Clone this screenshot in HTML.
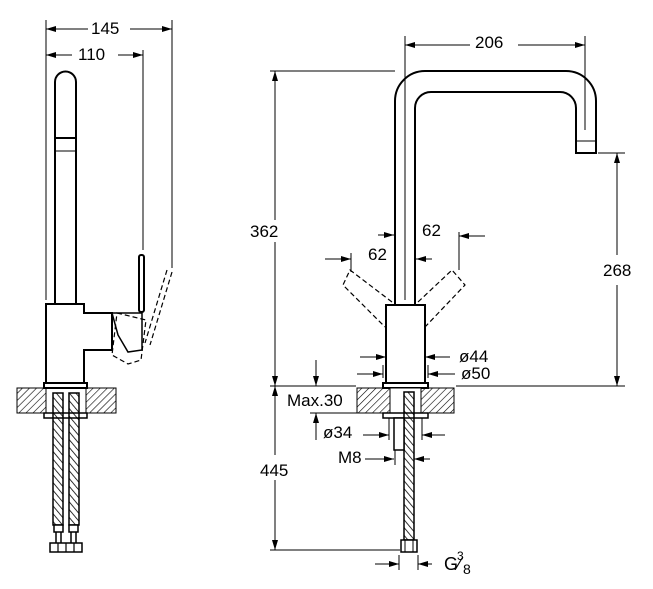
<!DOCTYPE html>
<html><head><meta charset="utf-8"><style>html,body{margin:0;padding:0;background:#fff}svg{display:block}text{font-family:"Liberation Sans",sans-serif;font-size:16px;fill:#000}</style></head>
<body>
<svg width="653" height="589" viewBox="0 0 653 589" xmlns="http://www.w3.org/2000/svg">
<defs>
<pattern id="h" width="5" height="5" patternUnits="userSpaceOnUse" patternTransform="rotate(45)"><line x1="0" y1="0" x2="0" y2="5" stroke="#000" stroke-width="1.2"/></pattern>
<pattern id="hz" width="5" height="5" patternUnits="userSpaceOnUse" patternTransform="rotate(-40)"><line x1="0" y1="0" x2="0" y2="5" stroke="#000" stroke-width="1.6"/></pattern>
<marker id="a" viewBox="0 0 10 6" refX="10" refY="3" markerWidth="10" markerHeight="6" orient="auto-start-reverse" markerUnits="userSpaceOnUse"><path d="M0 0 L10 3 L0 6z" fill="#000"/></marker>
</defs>
<g fill="none" stroke="#000" stroke-width="1">
<line x1="46" y1="20" x2="46" y2="300"/>
<line x1="172" y1="20" x2="172" y2="268"/>
<line x1="143" y1="50" x2="143" y2="250"/>
<line x1="46" y1="29" x2="88" y2="29" marker-start="url(#a)"/><line x1="130" y1="29" x2="172" y2="29" marker-end="url(#a)"/>
<line x1="46" y1="55" x2="72" y2="55" marker-start="url(#a)"/><line x1="118" y1="55" x2="143" y2="55" marker-end="url(#a)"/>
</g>
<text x="91" y="34" style="font-size:17px">145</text><text x="78" y="60" style="font-size:17px">110</text>
<g fill="none" stroke="#000" stroke-width="2">
<path d="M55 304 V82 A10.5 10.5 0 0 1 76 82 V304"/>
<line x1="55" y1="138" x2="76" y2="138"/><line x1="55" y1="151" x2="76" y2="151" stroke-width="1"/>
<path d="M46 383 V304 H84 V313 H112 V350 H84 V383"/>
<rect x="139" y="255" width="5" height="57" rx="2"/>
<path d="M112 313 L142 313 L142 350 L128 352 L118 335 Z" stroke-width="1.5"/>
<rect x="44" y="383" width="43" height="5"/>
</g>
<g fill="none" stroke="#000" stroke-width="1.2" stroke-dasharray="5,3">
<line x1="172" y1="272" x2="150" y2="345"/><line x1="167" y1="270" x2="145" y2="343"/>
<path d="M117 313 L146 320 L141 360 L128 364 L112 355 Z"/>
</g>
<rect x="17" y="388" width="29" height="25" fill="url(#h)" stroke="#000"/>
<rect x="86" y="388" width="30" height="25" fill="url(#h)" stroke="#000"/>
<rect x="44" y="413" width="43" height="5" fill="#fff" stroke="#000" stroke-width="1.5"/>
<rect x="53" y="393" width="10" height="132" fill="url(#hz)" stroke="#000" stroke-width="1.5"/>
<rect x="69" y="393" width="10" height="132" fill="url(#hz)" stroke="#000" stroke-width="1.5"/>
<g fill="#fff" stroke="#000" stroke-width="1.5">
<rect x="54" y="525" width="9" height="7"/><rect x="69" y="525" width="9" height="7"/>
<line x1="56" y1="532" x2="56" y2="543"/><line x1="61" y1="532" x2="61" y2="543"/>
<line x1="71" y1="532" x2="71" y2="543"/><line x1="76" y1="532" x2="76" y2="543"/>
<rect x="50" y="543" width="32" height="9"/>
</g>
<g stroke="#000" stroke-width="1.2"><line x1="58" y1="543" x2="58" y2="552"/><line x1="66" y1="543" x2="66" y2="552"/><line x1="74" y1="543" x2="74" y2="552"/></g>

<g fill="none" stroke="#000" stroke-width="1">
<line x1="270" y1="71" x2="395" y2="71"/>
<line x1="275" y1="71" x2="275" y2="220" marker-start="url(#a)"/><line x1="275" y1="242" x2="275" y2="386" marker-end="url(#a)"/>
<line x1="270" y1="386" x2="356" y2="386"/><line x1="456" y1="386" x2="625" y2="386"/>
<line x1="405" y1="36" x2="405" y2="300"/><line x1="585" y1="36" x2="585" y2="130"/>
<line x1="405" y1="45" x2="470" y2="45" marker-start="url(#a)"/><line x1="518" y1="45" x2="585" y2="45" marker-end="url(#a)"/>
<line x1="598" y1="153" x2="625" y2="153"/>
<line x1="617" y1="153" x2="617" y2="255" marker-start="url(#a)"/><line x1="617" y1="285" x2="617" y2="386" marker-end="url(#a)"/>
<line x1="275" y1="386" x2="275" y2="455" marker-start="url(#a)"/><line x1="275" y1="480" x2="275" y2="550" marker-end="url(#a)"/>
<line x1="270" y1="550" x2="400" y2="550"/>
<line x1="351" y1="253" x2="351" y2="272"/><line x1="325" y1="259" x2="351" y2="259" marker-end="url(#a)"/>
<line x1="378" y1="235" x2="394" y2="235" marker-end="url(#a)"/>
<line x1="459" y1="232" x2="459" y2="270"/><line x1="485" y1="236" x2="459" y2="236" marker-end="url(#a)"/>
<line x1="432" y1="259" x2="416" y2="259" marker-end="url(#a)"/>
<line x1="360" y1="357" x2="386" y2="357" marker-end="url(#a)"/><line x1="450" y1="357" x2="425" y2="357" marker-end="url(#a)"/>
<line x1="357" y1="374" x2="383" y2="374" marker-end="url(#a)"/><line x1="455" y1="374" x2="428" y2="374" marker-end="url(#a)"/>
<line x1="383" y1="365" x2="383" y2="378"/><line x1="428" y1="365" x2="428" y2="378"/>
<line x1="316" y1="360" x2="316" y2="386" marker-end="url(#a)"/>
<line x1="310" y1="413" x2="357" y2="413"/>
<line x1="316" y1="440" x2="316" y2="413" marker-end="url(#a)"/>
<line x1="363" y1="435" x2="389" y2="435" marker-end="url(#a)"/><line x1="445" y1="435" x2="422" y2="435" marker-end="url(#a)"/>
<line x1="389" y1="418" x2="389" y2="440"/><line x1="422" y1="418" x2="422" y2="440"/>
<line x1="365" y1="459" x2="394" y2="459" marker-end="url(#a)"/><line x1="430" y1="459" x2="414" y2="459" marker-end="url(#a)"/>
<line x1="395" y1="450" x2="395" y2="465"/>
<line x1="375" y1="564" x2="399" y2="564" marker-end="url(#a)"/><line x1="432" y1="564" x2="418" y2="564" marker-end="url(#a)"/>
<line x1="399" y1="555" x2="399" y2="570"/><line x1="418" y1="555" x2="418" y2="570"/>
</g>
<g fill="none" stroke="#000" stroke-width="2">
<path d="M395 305 V101 A30 30 0 0 1 425 71 H566 A30 30 0 0 1 596 101 V153 H576 V108 A16 16 0 0 0 560 92 H431 A16 16 0 0 0 415 108 V305"/>
<line x1="576" y1="141" x2="596" y2="141" stroke-width="1"/>
<rect x="386" y="305" width="39" height="78"/>
<rect x="383" y="383" width="45" height="5"/>
</g>
<g fill="none" stroke="#000" stroke-width="1.2" stroke-dasharray="5,3">
<path d="M392 302 L350 270 L343 285 L385 327"/>
<path d="M418 302 L452 270 L465 285 L425 327"/>
</g>
<rect x="357" y="388" width="33" height="25" fill="url(#h)" stroke="#000"/>
<rect x="421" y="388" width="33" height="25" fill="url(#h)" stroke="#000"/>
<rect x="390" y="388" width="31" height="25" fill="#fff" stroke="#000"/>
<rect x="383" y="413" width="45" height="5" fill="#fff" stroke="#000" stroke-width="1.5"/>
<rect x="404" y="392" width="10" height="148" fill="url(#hz)" stroke="#000" stroke-width="1.5"/>
<rect x="394" y="418" width="10" height="32" fill="#fff" stroke="#000" stroke-width="1.5"/>
<rect x="401" y="540" width="16" height="12" fill="#fff" stroke="#000" stroke-width="1.5"/>
<line x1="405" y1="540" x2="405" y2="552" stroke="#000"/><line x1="413" y1="540" x2="413" y2="552" stroke="#000"/>
<g style="font-size:17px">
<text x="250" y="237" style="font-size:17px">362</text><text x="603" y="276" style="font-size:17px">268</text><text x="475" y="48" style="font-size:17px">206</text>
<text x="368" y="260" style="font-size:17px">62</text><text x="422" y="236" style="font-size:17px">62</text>
<text x="459" y="362" style="font-size:17px">ø44</text><text x="461" y="379" style="font-size:17px">ø50</text>
<text x="287" y="406" style="font-size:17px">Max.30</text><text x="323" y="438" style="font-size:17px">ø34</text><text x="338" y="463" style="font-size:17px">M8</text>
<text x="260" y="476" style="font-size:17px">445</text>
</g>
<text x="444" y="570" style="font-size:18px">G</text><text x="457" y="560" style="font-size:12px">3</text><text x="458" y="570" style="font-size:18px">⁄</text><text x="463" y="574" style="font-size:14px">8</text>
</svg>
</body></html>
